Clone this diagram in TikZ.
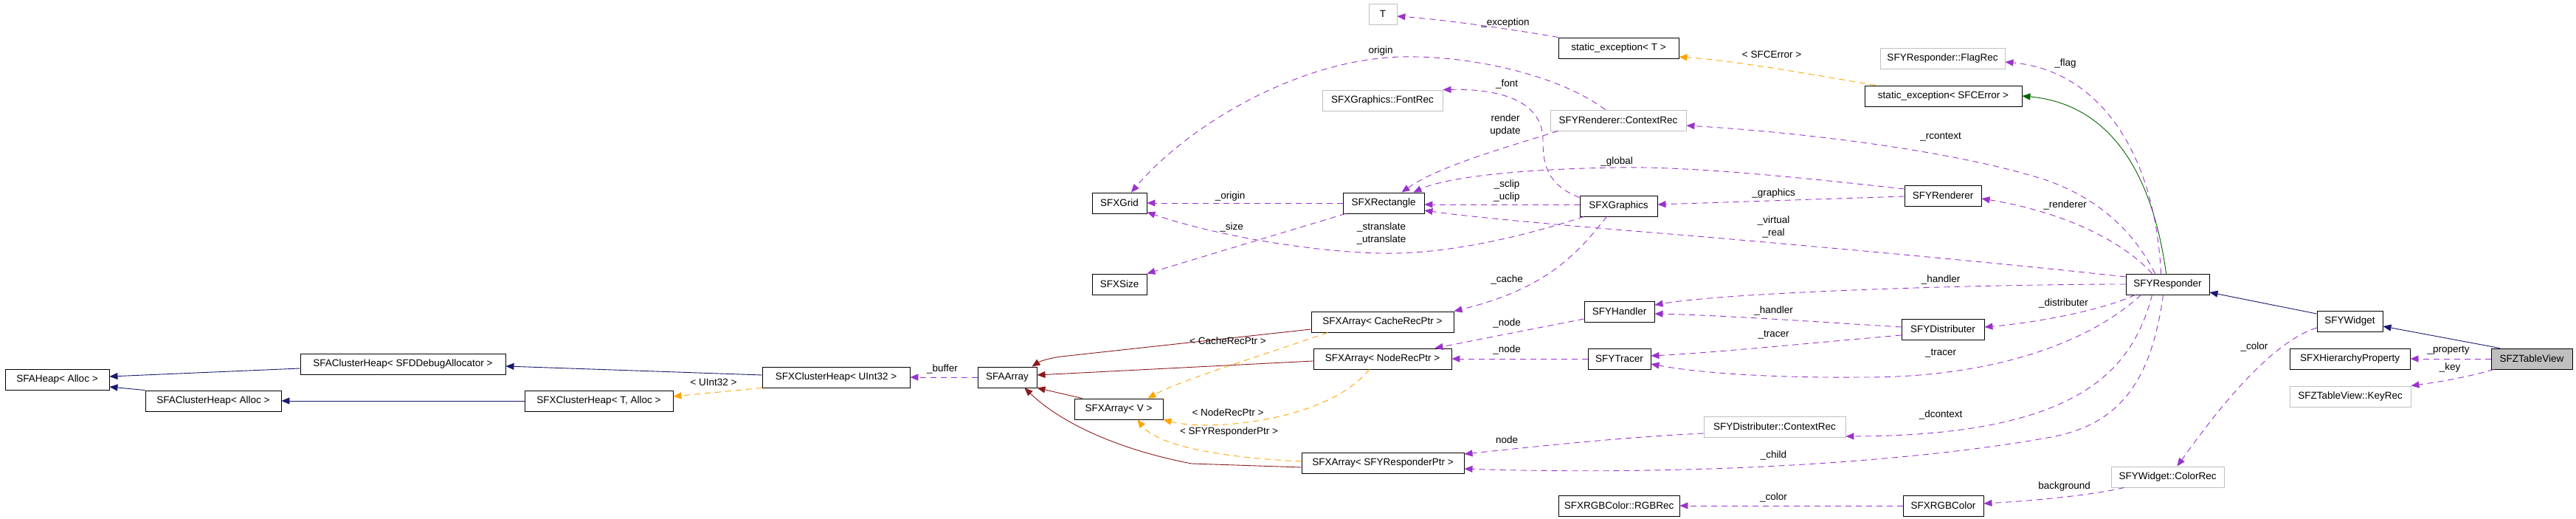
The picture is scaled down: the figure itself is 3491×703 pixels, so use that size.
\documentclass[tikz,border=0pt]{standalone}
\usepackage{fontspec}
\setmainfont{Liberation Sans}
\usetikzlibrary{arrows.meta}
\definecolor{inhblue}{RGB}{25,25,112}
\definecolor{protgreen}{RGB}{0,100,0}
\definecolor{privred}{RGB}{139,26,26}
\definecolor{usecol}{RGB}{154,50,205}
\definecolor{tmplcol}{RGB}{255,165,0}
\definecolor{undocgray}{RGB}{191,191,191}
\newcommand\dgfont{\fontsize{13.5}{17}\selectfont}
\tikzset{
  cls/.style={draw=black, line width=0.9pt, minimum height=28pt, inner sep=0pt, font=\dgfont, text=black},
  undoc/.style={cls, draw=undocgray},
  lbl/.style={font=\dgfont, inner sep=0pt, align=center, text=black},
  tipstyle/.style={-{Triangle[length=11pt,width=9pt]}},
  usage/.style={draw=usecol, line width=0.9pt, dash pattern=on 8pt off 6pt, tipstyle},
  tmpl/.style={draw=tmplcol, line width=0.9pt, dash pattern=on 8pt off 6pt, tipstyle},
  pubinh/.style={draw=inhblue, line width=0.9pt, tipstyle},
  protinh/.style={draw=protgreen, line width=0.9pt, tipstyle},
  privinh/.style={draw=privred, line width=0.9pt, tipstyle}
}
\begin{document}
\begin{tikzpicture}[x=1pt,y=-1pt]
\useasboundingbox[fill=white] (0,0) rectangle (3491,703);
% ---------- nodes ----------
\node[cls, minimum width=141pt] (heap) at (77.5,514) {SFAHeap< Alloc >};
\node[cls, minimum width=278pt] (chdbg) at (546,493) {SFAClusterHeap< SFDDebugAllocator >};
\node[cls, minimum width=184pt] (challoc) at (289,543) {SFAClusterHeap< Alloc >};
\node[cls, minimum width=200pt] (xchu) at (1133,511) {SFXClusterHeap< UInt32 >};
\node[cls, minimum width=201pt] (xcht) at (811.5,543) {SFXClusterHeap< T, Alloc >};
\node[cls, minimum width=80pt] (aarray) at (1365,511) {SFAArray};
\node[cls, minimum width=120pt] (xav) at (1516,554) {SFXArray< V >};
\node[cls, minimum width=193pt] (xacache) at (1873.5,436) {SFXArray< CacheRecPtr >};
\node[cls, minimum width=187pt] (xanode) at (1873.5,486) {SFXArray< NodeRecPtr >};
\node[cls, minimum width=220pt] (xaresp) at (1874,627) {SFXArray< SFYResponderPtr >};
\node[cls, minimum width=74pt] (grid) at (1517,275) {SFXGrid};
\node[cls, minimum width=74pt] (size) at (1517,385) {SFXSize};
\node[cls, minimum width=110pt] (rect) at (1875,275) {SFXRectangle};
\node[undoc, minimum width=38pt] (T) at (1874,19) {T};
\node[undoc, minimum width=163pt] (fontrec) at (1873.5,136) {SFXGraphics::FontRec};
\node[cls, minimum width=163pt] (sexT) at (2193.5,65) {static\_exception< T >};
\node[undoc, minimum width=184pt] (rctx) at (2193,163) {SFYRenderer::ContextRec};
\node[cls, minimum width=105pt] (graphics) at (2193.5,279) {SFXGraphics};
\node[cls, minimum width=95pt] (handler) at (2194.5,422) {SFYHandler};
\node[cls, minimum width=85pt] (tracer) at (2194.5,486) {SFYTracer};
\node[undoc, minimum width=192pt] (dctx) at (2405,578) {SFYDistributer::ContextRec};
\node[cls, minimum width=164pt] (rgbrec) at (2194,685) {SFXRGBColor::RGBRec};
\node[undoc, minimum width=169pt] (flagrec) at (2632.5,79) {SFYResponder::FlagRec};
\node[cls, minimum width=213pt] (sexE) at (2633.5,130) {static\_exception< SFCError >};
\node[cls, minimum width=104pt] (renderer) at (2633,265) {SFYRenderer};
\node[cls, minimum width=112pt] (distrib) at (2633,446) {SFYDistributer};
\node[cls, minimum width=109pt] (rgb) at (2633.5,685) {SFXRGBColor};
\node[cls, minimum width=113pt] (responder) at (2937.5,385) {SFYResponder};
\node[undoc, minimum width=153pt] (colorrec) at (2937.5,646) {SFYWidget::ColorRec};
\node[cls, minimum width=89pt] (widget) at (3184.5,435) {SFYWidget};
\node[cls, minimum width=163pt] (hprop) at (3184.5,486) {SFXHierarchyProperty};
\node[undoc, minimum width=164pt] (keyrec) at (3185,537) {SFZTableView::KeyRec};
\node[cls, minimum width=110pt, fill=undocgray] (table) at (3431,486) {SFZTableView};
% ---------- inheritance ----------
\draw[pubinh] ([yshift=-6pt]chdbg.west) -- ([yshift=4pt]heap.east);
\draw[pubinh] (challoc.north west) -- ([yshift=-10pt]heap.east);
\draw[pubinh] (xcht.west) -- (challoc.east);
\draw[pubinh] ([yshift=3pt]xchu.west) -- ([yshift=-3pt]chdbg.east);
\draw[privinh] ([yshift=-10pt]xacache.west) -- (1447,482) .. controls (1425,484) and (1410,489) .. ([xshift=-7pt]aarray.north east);
\draw[privinh] ([yshift=-3pt]xanode.west) -- ([yshift=3pt]aarray.east);
\draw[privinh] ([xshift=11pt]xav.north west) -- (aarray.south east);
\draw[privinh] ([yshift=-6pt]xaresp.west) -- (1615,628) .. controls (1520,610) and (1440,575) .. ([xshift=-17pt]aarray.south east);
\draw[protinh] ([xshift=55pt]responder.north west) .. controls (2915,220) and (2850,140) .. (sexE.east);
\draw[pubinh] ([yshift=10pt]widget.west) -- ([yshift=-11pt]responder.east);
\draw[pubinh] ([xshift=12pt]table.north west) -- ([yshift=-7pt]widget.east);
% ---------- template instances ----------
\draw[tmpl] (xchu.south west) -- ([yshift=6pt]xcht.east);
\node[lbl] (lu32) at (967,518) {< UInt32 >};
\draw[tmpl] ([xshift=23pt]xacache.south west) .. controls (1700,485) and (1600,515) .. ([xshift=-21pt]xav.north east);
\node[lbl] (lcache) at (1664,462) {< CacheRecPtr >};
\draw[tmpl] ([xshift=76pt]xanode.south west) .. controls (1800,570) and (1640,585) .. (xav.south east);
\node[lbl] (lnode) at (1664,559) {< NodeRecPtr >};
\draw[tmpl] ([yshift=2pt]xaresp.west) .. controls (1660,620) and (1570,605) .. ([xshift=-35pt]xav.south east);
\node[lbl] (lresp) at (1665.5,585) {< SFYResponderPtr >};
\draw[tmpl] ([xshift=15pt]sexE.north west) .. controls (2450,100) and (2350,82) .. ([yshift=-12pt]sexT.east);
\node[lbl] (lsfce) at (2401,74) {< SFCError >};
% ---------- usage ----------
\draw[usage] (aarray.west) -- (xchu.east);
\node[lbl] (lbuf) at (1277,500) {\_buffer};
\draw[usage] (rect.west) -- (grid.east);
\node[lbl] (lorig1) at (1667,266) {\_origin};
\draw[usage] ([xshift=4pt]rect.south west) -- (size.north east);
\node[lbl] (lsize) at (1669,308) {\_size};
\draw[usage] ([xshift=6pt]graphics.south west) .. controls (2050,325) and (1950,345) .. (1870,343) .. controls (1780,341) and (1650,320) .. ([yshift=2pt]grid.south east);
\node[lbl] (ltrans) at (1872,316) {\_stranslate\\\_utranslate};
\draw[usage] ([xshift=75pt]rctx.north west) .. controls (2110,100) and (1990,75) .. (1900,77) .. controls (1760,80) and (1610,170) .. ([xshift=16pt]grid.north);
\node[lbl] (lorig2) at (1871,69) {origin};
\draw[usage] ([xshift=11pt]rctx.south west) .. controls (2040,200) and (1950,225) .. ([xshift=-31pt]rect.north east);
\node[lbl] (lrender) at (2040,170) {render\\update};
\draw[usage] ([yshift=-3pt]graphics.north west) .. controls (2095,250) and (2091,220) .. (2091,190) .. controls (2091,140) and (2040,120) .. (fontrec.north east);
\node[lbl] (lfont) at (2042,114) {\_font};
\draw[usage] ([yshift=2pt]graphics.west) -- ([yshift=-2pt]rect.east);
\node[lbl] (lclip) at (2042,259) {\_sclip\\\_uclip};
\draw[usage] ([yshift=9pt]renderer.west) .. controls (2420,238) and (2280,225) .. (2190,227) .. controls (2060,229) and (1960,240) .. ([xshift=-15pt]rect.north east);
\node[lbl] (lglobal) at (2191,219) {\_global};
\draw[usage] ([yshift=-1pt]renderer.west) -- ([yshift=2pt]graphics.east);
\node[lbl] (lgraph) at (2403.5,262) {\_graphics};
\draw[usage] ([yshift=10pt]responder.west) .. controls (2700,355) and (2450,333) .. (2300,320) .. controls (2150,308) and (2000,295) .. ([yshift=-10pt]rect.east);
\node[lbl] (lvirt) at (2403.5,307) {\_virtual\\\_real};
\draw[usage] ([xshift=40pt]responder.north west) .. controls (2895,320) and (2850,270) .. (2770,243) .. controls (2650,205) and (2450,180) .. ([yshift=-7pt]rctx.east);
\node[lbl] (lrctx) at (2630,185) {\_rcontext};
\draw[usage] ([xshift=48pt]responder.north west) .. controls (2920,200) and (2840,95) .. ([yshift=-5pt]flagrec.east);
\node[lbl] (lflag) at (2799,86) {\_flag};
\draw[usage] (sexT.north west) .. controls (2040,38) and (1950,26) .. ([yshift=-3pt]T.east);
\node[lbl] (lexc) at (2040,31) {\_exception};
\draw[usage] ([xshift=36pt]responder.north west) .. controls (2875,325) and (2795,287) .. ([yshift=-4pt]renderer.east);
\node[lbl] (lrend) at (2798.5,278) {\_renderer};
\draw[usage] (responder.west) .. controls (2700,385) and (2350,395) .. ([yshift=9pt]handler.east);
\node[lbl] (lhand1) at (2630,379) {\_handler};
\draw[usage] ([yshift=3pt]distrib.west) .. controls (2450,435) and (2330,427) .. ([yshift=-3pt]handler.east);
\node[lbl] (lhand2) at (2403.5,421) {\_handler};
\draw[usage] ([yshift=-8pt]distrib.west) .. controls (2450,465) and (2320,478) .. ([yshift=4pt]tracer.east);
\node[lbl] (ltrac1) at (2403.5,453) {\_tracer};
\draw[usage] ([xshift=21pt]responder.south west) .. controls (2830,465) and (2700,512) .. (2520,511) .. controls (2400,512) and (2300,505) .. ([yshift=-7pt]tracer.east);
\node[lbl] (ltrac2) at (2630,478) {\_tracer};
\draw[usage] ([xshift=13pt]responder.south west) .. controls (2850,420) and (2760,437) .. ([yshift=3pt]distrib.east);
\node[lbl] (ldist) at (2796.5,411) {\_distributer};
\draw[usage] ([yshift=-10pt]handler.west) -- ([xshift=-23pt]xanode.north east);
\node[lbl] (lnode1) at (2042,438) {\_node};
\draw[usage] (tracer.west) -- (xanode.east);
\node[lbl] (lnode2) at (2042,474) {\_node};
\draw[usage] ([xshift=37pt]graphics.south west) .. controls (2140,340) and (2100,390) .. (xacache.north east);
\node[lbl] (lcachel) at (2042,379) {\_cache};
\draw[usage] ([xshift=36pt]responder.south west) .. controls (2890,500) and (2820,590) .. ([yshift=-13pt]dctx.east);
\node[lbl] (ldctx) at (2630,562) {\_dcontext};
\draw[usage] ([xshift=51pt]responder.south west) .. controls (2915,520) and (2870,575) .. (2780,592) .. controls (2600,625) and (2300,645) .. ([yshift=-8pt]xaresp.east);
\node[lbl] (lchild) at (2403.5,617) {\_child};
\draw[usage] ([yshift=-9pt]dctx.west) .. controls (2200,592) and (2080,605) .. ([yshift=12pt]xaresp.east);
\node[lbl] (lnode3) at (2042,596) {node};
\draw[usage] (rgb.west) -- (rgbrec.east);
\node[lbl] (lcol1) at (2403.5,674) {\_color};
\draw[usage] ([xshift=18pt]colorrec.south west) .. controls (2840,670) and (2760,678) .. ([yshift=3pt]rgb.east);
\node[lbl] (lbg) at (2797.5,659) {background};
\draw[usage] ([yshift=-9pt]widget.west) .. controls (3090,460) and (3030,520) .. ([xshift=13pt]colorrec.north);
\node[lbl] (lcol2) at (3055,470) {\_color};
\draw[usage] (table.west) -- (hprop.east);
\node[lbl] (lprop) at (3318,475) {\_property};
\draw[usage] ([xshift=4pt]table.south west) .. controls (3340,512) and (3300,518) .. (keyrec.north east);
\node[lbl] (lkey) at (3320,498) {\_key};
\end{tikzpicture}
\end{document}
